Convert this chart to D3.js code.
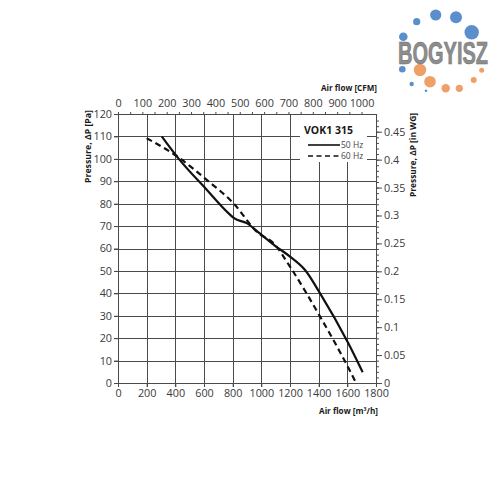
<!DOCTYPE html>
<html><head><meta charset="utf-8">
<script src="https://cdn.jsdelivr.net/npm/d3@7"></script>
<style>
html,body{margin:0;padding:0;background:#fff;}
svg{display:block;}
text{font-family:"Open Sans",sans-serif;}
</style></head>
<body>
<svg id="c" width="500" height="500"></svg>
<script>
// ---- data ----
const flowTicks = [0,200,400,600,800,1000,1200,1400,1600,1800];          // m3/h
const pressureTicks = [0,10,20,30,40,50,60,70,80,90,100,110,120];        // Pa
const cfmTicks = [0,100,200,300,400,500,600,700,800,900,1000];           // CFM
const wgTicks = [0,0.05,0.1,0.15,0.2,0.25,0.3,0.35,0.4,0.45];            // in WG
const flow50 = [305,420,619,770,810,898,991,1096,1200,1305,1410,1607,1707];
const pres50 = [110,100.3,86.2,75.8,73.5,71.3,66.6,61.2,56.4,50.4,40,17.7,4.8];
const flow60 = [200,421,619,805,968,1096,1200,1410,1607,1661];
const pres60 = [109.2,100.7,90.6,80.2,67.5,61.6,51.9,29.6,6.8,0];
const legendTitle = "VOK1 315";
const seriesNames = ["50 Hz","60 Hz"];

const M3H_PER_CFM = 1.699;
const PA_PER_INWG = 249.089;

const svg = d3.select("#c");
const x = d3.scaleLinear().domain([0,1800]).range([118,376]);
const y = d3.scaleLinear().domain([0,120]).range([383,114]);
const xCFM = d3.scaleLinear().domain([0,1000]).range([x(0), x(1000*M3H_PER_CFM)]);
const yWG = d3.scaleLinear().domain([0,120/PA_PER_INWG]).range([y(0), y(120)]);

const grid = svg.append("g").attr("stroke","#4a4a4a").attr("stroke-width",1).attr("shape-rendering","crispEdges");
grid.selectAll("line.h").data(pressureTicks).join("line")
  .attr("x1",x(0)-4).attr("x2",x(1800))
  .attr("y1",d=>Math.round(y(d))+0.5).attr("y2",d=>Math.round(y(d))+0.5);
grid.selectAll("line.v").data(flowTicks).join("line")
  .attr("y1",y(0)+4).attr("y2",y(120))
  .attr("x1",d=>Math.round(x(d))+0.5).attr("x2",d=>Math.round(x(d))+0.5);

function styleAxis(g){
  g.select(".domain").attr("stroke","#4a4a4a");
  g.selectAll(".tick line").attr("stroke","#4a4a4a");
  g.selectAll("text").attr("fill","#3a3a3a").style("font-size","10.8px").style("font-family","'Open Sans',sans-serif");
}
svg.append("g").attr("transform",`translate(${x(0)},0)`)
  .call(d3.axisLeft(y).tickValues(pressureTicks).tickSize(4).tickPadding(2).tickFormat(d3.format("d")))
  .call(styleAxis).call(g=>g.select(".domain").remove());
svg.append("g").attr("transform",`translate(0,${y(0)})`)
  .call(d3.axisBottom(x).tickValues(flowTicks).tickSize(4).tickPadding(2).tickFormat(d3.format("d")))
  .call(styleAxis).call(g=>g.select(".domain").remove());
svg.append("g").attr("transform",`translate(0,${y(120)})`)
  .call(d3.axisTop(xCFM).tickValues(d3.range(0,1001,50)).tickSize(2).tickFormat(""))
  .call(styleAxis).call(g=>g.select(".domain").remove());
svg.append("g").attr("transform",`translate(0,${y(120)})`)
  .call(d3.axisTop(xCFM).tickValues(cfmTicks).tickSize(0).tickPadding(7).tickFormat(d3.format("d")))
  .call(styleAxis).call(g=>g.select(".domain").remove());
svg.append("g").attr("transform",`translate(${x(1800)},0)`)
  .call(d3.axisRight(yWG).tickValues(d3.range(0,0.4701,0.01)).tickSize(3).tickFormat(""))
  .call(styleAxis).call(g=>g.select(".domain").remove());
svg.append("g").attr("transform",`translate(${x(1800)},0)`)
  .call(d3.axisRight(yWG).tickValues(wgTicks).tickSize(6).tickPadding(2).tickFormat(d=>d3.format("")(+d.toFixed(2))))
  .call(styleAxis).call(g=>g.select(".domain").remove());

svg.append("rect").attr("x",x(0)+0.5).attr("y",Math.round(y(120))+0.5)
  .attr("width",x(1800)-x(0)).attr("height",y(0)-y(120))
  .attr("fill","none").attr("stroke","#4a4a4a").attr("shape-rendering","crispEdges");

// legend box
svg.append("rect").attr("x",300).attr("y",y(120)+1).attr("width",67).attr("height",47).attr("fill","#fff");
svg.append("text").attr("x",304).attr("y",134).text(legendTitle)
  .style("font-weight","bold").style("font-size","10.5px").attr("fill","#1a1a1a");
const leg = [{n:seriesNames[0],dash:null,yy:145},{n:seriesNames[1],dash:"5,3.5",yy:156}];
leg.forEach(l=>{
  svg.append("line").attr("x1",308).attr("x2",340).attr("y1",l.yy).attr("y2",l.yy)
    .attr("stroke","#111").attr("stroke-width",1.6).attr("stroke-dasharray",l.dash);
  svg.append("text").attr("x",341).attr("y",l.yy+3).text(l.n)
    .style("font-size","8.5px").attr("fill","#444");
});

// curves
const line = d3.line().x(d=>x(d[0])).y(d=>y(d[1])).curve(d3.curveMonotoneX);
svg.append("path").datum(flow50.map((f,i)=>[f,pres50[i]])).attr("d",line)
  .attr("fill","none").attr("stroke","#111").attr("stroke-width",2.2);
svg.append("path").datum(flow60.map((f,i)=>[f,pres60[i]])).attr("d",line)
  .attr("fill","none").attr("stroke","#111").attr("stroke-width",2.2).attr("stroke-dasharray","6,4");

// axis titles
function title(t,xx,yy,len,rot){
  const el = svg.append("text").attr("text-anchor","end").attr("fill","#1a1a1a")
    .style("font-weight","bold").style("font-size","8.5px").text(t)
    .attr("textLength",len).attr("lengthAdjust","spacingAndGlyphs");
  if(rot) el.attr("transform",`translate(${xx},${yy}) rotate(-90)`);
  else el.attr("x",xx).attr("y",yy);
}
title("Air flow [CFM]",377,91,56,false);
title("Air flow [m\u00B3/h]",378,414,59,false);
title("Pressure, \u0394P [Pa]",91,110,73,true);
title("Pressure, \u0394P [in WG]",416,113,84,true);

// logo
const logo = svg.append("g");
const blue = [[416.7,21.7,3.6],[435.7,15,5.6],[456,17.3,6],[471.7,32.3,7.2],[403.3,36.7,4.3],[402.3,69.3,3.3],[411.7,84,2.2],[426,90.7,1.3]];
const orange = [[420,70,6.2],[430,81.7,5.8],[445.7,88.3,4.2],[459.3,88.3,3.6],[473.7,80,3],[481.7,70.3,2.5]];
logo.selectAll("circle.b").data(blue).join("circle").attr("cx",d=>d[0]).attr("cy",d=>d[1]).attr("r",d=>d[2]).attr("fill","#5b8fcc");
logo.selectAll("circle.o").data(orange).join("circle").attr("cx",d=>d[0]).attr("cy",d=>d[1]).attr("r",d=>d[2]).attr("fill","#efa066");
logo.append("text").attr("x",398).attr("y",64).text("BOGYISZ")
  .attr("textLength",90).attr("lengthAdjust","spacingAndGlyphs")
  .style("font-family","'Liberation Sans',sans-serif").style("font-weight","bold").style("font-size","31px")
  .attr("fill","#8d8d8d").attr("stroke","#6f6f6f").attr("stroke-width",0.6);
</script>
</body></html>
